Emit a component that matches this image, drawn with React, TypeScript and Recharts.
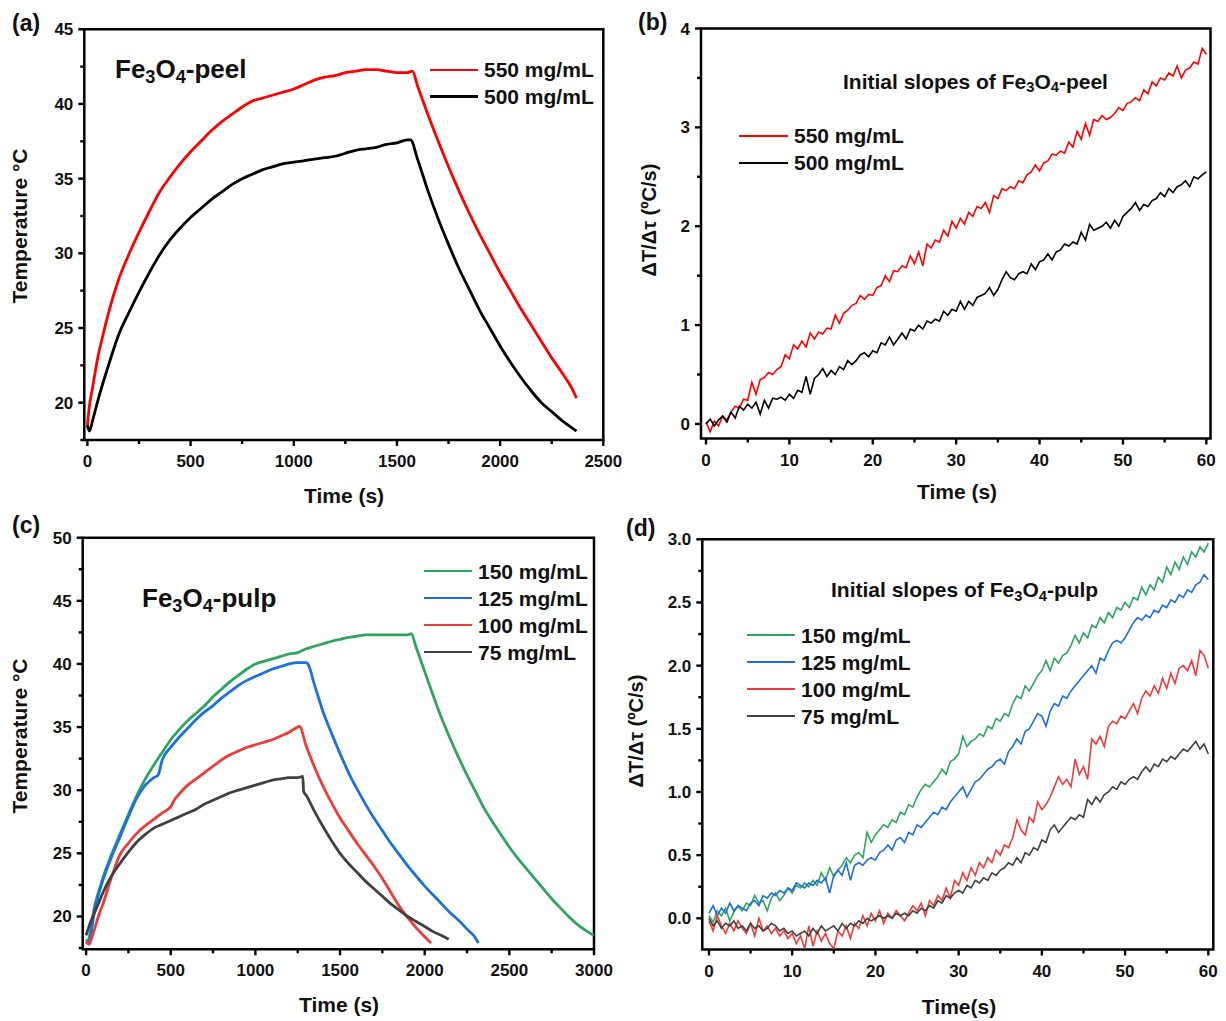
import React from 'react'
import { LineChart, Line, XAxis, YAxis, Legend, ReferenceArea } from 'recharts'

const FONT = '"Liberation Sans", Arial, Helvetica, sans-serif'
const INK = '#111'

// ---- (a) Fe3O4-peel, temperature vs time
const peel550Time = [0, 10, 25, 50, 75, 100, 150, 200, 250, 300, 350, 400, 450, 500, 550, 600, 650, 700, 750, 800, 850, 900, 950, 1000, 1050, 1100, 1150, 1200, 1250, 1300, 1350, 1400, 1450, 1500, 1550, 1575, 1600, 1650, 1700, 1750, 1800, 1850, 1900, 1950, 2000, 2050, 2100, 2150, 2200, 2250, 2300, 2350, 2370]
const peel550Temp = [18.5, 19.8, 21.0, 23.0, 24.5, 25.9, 28.2, 29.9, 31.4, 32.8, 34.1, 35.1, 36.0, 36.8, 37.5, 38.2, 38.8, 39.3, 39.8, 40.2, 40.4, 40.6, 40.8, 41.0, 41.3, 41.6, 41.8, 41.9, 42.1, 42.2, 42.3, 42.3, 42.2, 42.1, 42.1, 42.2, 41.2, 39.3, 37.5, 35.8, 34.2, 32.7, 31.3, 30.0, 28.7, 27.5, 26.3, 25.2, 24.1, 23.0, 22.0, 20.9, 20.3]
const peel500Time = [0, 10, 25, 50, 75, 100, 150, 200, 250, 300, 350, 400, 450, 500, 550, 600, 650, 700, 750, 800, 850, 900, 950, 1000, 1050, 1100, 1150, 1200, 1250, 1300, 1350, 1400, 1450, 1500, 1550, 1566, 1600, 1650, 1700, 1750, 1800, 1850, 1900, 1950, 2000, 2050, 2100, 2150, 2200, 2250, 2300, 2350, 2370]
const peel500Temp = [18.5, 18.1, 18.8, 20.1, 21.3, 22.4, 24.5, 26.0, 27.4, 28.7, 29.9, 30.9, 31.7, 32.4, 33.0, 33.6, 34.1, 34.6, 35.0, 35.3, 35.6, 35.8, 36.0, 36.1, 36.2, 36.3, 36.4, 36.5, 36.7, 36.9, 37.0, 37.1, 37.3, 37.4, 37.6, 37.6, 36.3, 34.2, 32.3, 30.6, 29.0, 27.6, 26.2, 25.0, 23.8, 22.7, 21.7, 20.8, 20.0, 19.4, 18.8, 18.3, 18.1]

// ---- (c) Fe3O4-pulp, temperature vs time
const pulp150Time = [0, 10, 25, 50, 75, 100, 150, 200, 250, 300, 350, 400, 450, 500, 550, 600, 650, 700, 750, 800, 850, 900, 950, 1000, 1050, 1100, 1150, 1200, 1250, 1300, 1350, 1400, 1450, 1500, 1550, 1600, 1650, 1700, 1750, 1800, 1850, 1900, 1920, 1950, 2000, 2050, 2100, 2150, 2200, 2250, 2300, 2350, 2400, 2450, 2500, 2550, 2600, 2650, 2700, 2750, 2800, 2850, 2900, 2950, 3000]
const pulp150Temp = [18.2, 18.0, 18.8, 20.8, 22.0, 23.1, 24.9, 26.5, 28.1, 29.6, 30.9, 32.0, 33.0, 34.0, 34.8, 35.5, 36.1, 36.7, 37.4, 38.0, 38.6, 39.1, 39.6, 40.0, 40.2, 40.4, 40.6, 40.8, 40.9, 41.2, 41.4, 41.6, 41.8, 41.95, 42.1, 42.2, 42.3, 42.3, 42.3, 42.3, 42.3, 42.3, 42.4, 41.3, 39.4, 37.5, 35.7, 34.1, 32.6, 31.2, 29.9, 28.6, 27.5, 26.5, 25.5, 24.6, 23.8, 23.0, 22.2, 21.4, 20.7, 20.0, 19.4, 18.9, 18.5]
const pulp125Time = [0, 10, 25, 50, 75, 100, 150, 200, 250, 300, 350, 400, 425, 450, 500, 550, 600, 650, 700, 750, 800, 850, 900, 950, 1000, 1050, 1100, 1150, 1200, 1250, 1300, 1310, 1350, 1400, 1450, 1500, 1550, 1600, 1650, 1700, 1750, 1800, 1850, 1900, 1950, 2000, 2050, 2100, 2150, 2200, 2250, 2300, 2317]
const pulp125Temp = [18.0, 17.9, 18.3, 20.5, 21.8, 22.9, 24.7, 26.3, 27.9, 29.4, 30.4, 31.0, 31.2, 32.4, 33.4, 34.2, 34.9, 35.6, 36.2, 36.7, 37.3, 37.8, 38.3, 38.7, 39.0, 39.3, 39.6, 39.8, 40.0, 40.1, 40.1, 40.0, 38.3, 36.2, 34.5, 32.9, 31.4, 30.1, 28.9, 27.8, 26.8, 25.8, 24.9, 24.0, 23.2, 22.4, 21.7, 21.0, 20.3, 19.7, 19.0, 18.3, 17.9]
const pulp100Time = [0, 17, 25, 50, 75, 100, 150, 200, 250, 300, 350, 400, 450, 500, 525, 550, 600, 650, 700, 750, 800, 850, 900, 950, 1000, 1050, 1100, 1150, 1200, 1250, 1260, 1300, 1350, 1400, 1450, 1500, 1550, 1600, 1650, 1700, 1750, 1800, 1850, 1900, 1950, 2000, 2037]
const pulp100Temp = [18.0, 17.8, 18.0, 19.0, 20.1, 21.0, 23.1, 24.9, 25.8, 26.6, 27.2, 27.7, 28.2, 28.7, 29.3, 29.7, 30.4, 30.9, 31.4, 31.9, 32.4, 32.8, 33.1, 33.4, 33.6, 33.8, 34.0, 34.3, 34.6, 35.0, 35.05, 33.5, 31.8, 30.3, 29.0, 27.8, 26.8, 25.8, 24.9, 24.0, 23.0, 21.9, 20.8, 19.9, 19.1, 18.4, 17.9]
const pulp75Time = [0, 25, 50, 75, 100, 150, 200, 250, 300, 350, 400, 450, 500, 550, 600, 650, 700, 750, 800, 850, 900, 950, 1000, 1050, 1100, 1150, 1200, 1250, 1280, 1285, 1300, 1350, 1400, 1450, 1500, 1550, 1600, 1650, 1700, 1750, 1800, 1850, 1900, 1950, 2000, 2050, 2100, 2142]
const pulp75Temp = [18.5, 19.5, 20.3, 21.1, 21.9, 23.2, 24.2, 25.1, 25.9, 26.5, 27.0, 27.3, 27.6, 27.9, 28.2, 28.5, 28.9, 29.2, 29.5, 29.8, 30.0, 30.2, 30.4, 30.6, 30.8, 30.9, 31.0, 31.0, 31.1, 29.9, 29.6, 28.3, 27.1, 26.0, 25.0, 24.2, 23.5, 22.8, 22.2, 21.6, 21.0, 20.5, 20.0, 19.6, 19.2, 18.8, 18.5, 18.2]

// ---- (b) and (d) initial slopes, sampled every 0.5 s
const slopeTime = [
  0, 0.5, 1, 1.5, 2, 2.5, 3, 3.5, 4, 4.5,
  5, 5.5, 6, 6.5, 7, 7.5, 8, 8.5, 9, 9.5,
  10, 10.5, 11, 11.5, 12, 12.5, 13, 13.5, 14, 14.5,
  15, 15.5, 16, 16.5, 17, 17.5, 18, 18.5, 19, 19.5,
  20, 20.5, 21, 21.5, 22, 22.5, 23, 23.5, 24, 24.5,
  25, 25.5, 26, 26.5, 27, 27.5, 28, 28.5, 29, 29.5,
  30, 30.5, 31, 31.5, 32, 32.5, 33, 33.5, 34, 34.5,
  35, 35.5, 36, 36.5, 37, 37.5, 38, 38.5, 39, 39.5,
  40, 40.5, 41, 41.5, 42, 42.5, 43, 43.5, 44, 44.5,
  45, 45.5, 46, 46.5, 47, 47.5, 48, 48.5, 49, 49.5,
  50, 50.5, 51, 51.5, 52, 52.5, 53, 53.5, 54, 54.5,
  55, 55.5, 56, 56.5, 57, 57.5, 58, 58.5, 59, 59.5,
  60,
]
const peelSlope550 = [
  0.02, -0.08, 0.03, -0.02, 0.08, 0.04, 0.12, 0.18, 0.16, 0.25,
  0.24, 0.42, 0.30, 0.45, 0.47, 0.52, 0.50, 0.55, 0.58, 0.70,
  0.66, 0.80, 0.76, 0.84, 0.78, 0.92, 0.86, 0.93, 0.91, 0.97,
  0.96, 1.10, 1.02, 1.12, 1.15, 1.20, 1.22, 1.30, 1.26, 1.31,
  1.30, 1.38, 1.40, 1.50, 1.44, 1.55, 1.54, 1.60, 1.58, 1.70,
  1.62, 1.74, 1.60, 1.82, 1.78, 1.86, 1.84, 1.96, 1.90, 2.05,
  1.98, 2.08, 2.02, 2.14, 2.10, 2.20, 2.18, 2.24, 2.14, 2.31,
  2.28, 2.38, 2.36, 2.40, 2.38, 2.46, 2.44, 2.52, 2.55, 2.62,
  2.56, 2.64, 2.66, 2.73, 2.72, 2.76, 2.74, 2.85, 2.80, 2.96,
  2.88, 3.04, 2.92, 3.08, 3.06, 3.12, 3.08, 3.10, 3.14, 3.20,
  3.17, 3.24, 3.26, 3.30, 3.27, 3.38, 3.34, 3.46, 3.42, 3.50,
  3.48, 3.55, 3.52, 3.62, 3.50, 3.58, 3.60, 3.66, 3.64, 3.80,
  3.74,
]
const peelSlope500 = [
  0.00, 0.05, -0.02, 0.04, 0.08, 0.02, 0.12, 0.06, 0.18, 0.14,
  0.20, 0.16, 0.22, 0.10, 0.24, 0.16, 0.26, 0.25, 0.27, 0.24,
  0.30, 0.26, 0.34, 0.32, 0.48, 0.30, 0.46, 0.50, 0.56, 0.48,
  0.54, 0.50, 0.58, 0.55, 0.64, 0.60, 0.64, 0.70, 0.72, 0.68,
  0.74, 0.72, 0.82, 0.80, 0.88, 0.80, 0.86, 0.92, 0.86, 0.96,
  0.94, 1.00, 0.96, 1.04, 1.02, 1.06, 1.04, 1.14, 1.10, 1.16,
  1.14, 1.24, 1.16, 1.24, 1.20, 1.28, 1.30, 1.32, 1.38, 1.30,
  1.36, 1.46, 1.54, 1.48, 1.46, 1.52, 1.54, 1.52, 1.62, 1.56,
  1.64, 1.66, 1.72, 1.66, 1.74, 1.76, 1.82, 1.80, 1.84, 1.82,
  1.94, 1.86, 2.02, 1.96, 1.98, 2.00, 2.04, 1.98, 2.06, 2.00,
  2.10, 2.14, 2.18, 2.24, 2.16, 2.22, 2.20, 2.26, 2.28, 2.34,
  2.30, 2.38, 2.34, 2.40, 2.42, 2.46, 2.40, 2.50, 2.48, 2.52,
  2.55,
]
const pulpSlope150 = [
  0.02, -0.03, 0.06, 0.02, 0.08, -0.02, 0.05, 0.10, 0.06, 0.12,
  0.10, 0.18, 0.12, 0.14, 0.06, 0.16, 0.20, 0.14, 0.18, 0.24,
  0.20, 0.26, 0.24, 0.28, 0.25, 0.30, 0.26, 0.36, 0.30, 0.40,
  0.33, 0.38, 0.42, 0.48, 0.44, 0.50, 0.52, 0.48, 0.68, 0.60,
  0.66, 0.70, 0.74, 0.72, 0.78, 0.76, 0.84, 0.82, 0.90, 0.88,
  0.96, 1.02, 1.06, 1.04, 1.08, 1.12, 1.18, 1.14, 1.24, 1.26,
  1.30, 1.44, 1.36, 1.40, 1.42, 1.46, 1.44, 1.52, 1.50, 1.58,
  1.56, 1.62, 1.60, 1.70, 1.76, 1.74, 1.84, 1.80, 1.86, 1.92,
  1.96, 2.04, 1.96, 2.06, 2.02, 2.08, 2.10, 2.16, 2.24, 2.18,
  2.26, 2.22, 2.32, 2.30, 2.38, 2.34, 2.42, 2.38, 2.46, 2.44,
  2.50, 2.46, 2.54, 2.52, 2.62, 2.56, 2.64, 2.60, 2.70, 2.66,
  2.78, 2.72, 2.82, 2.76, 2.86, 2.80, 2.90, 2.86, 2.94, 2.90,
  2.97,
]
const pulpSlope125 = [
  0.04, 0.10, 0.02, 0.08, 0.04, 0.12, 0.06, 0.10, 0.08, 0.06,
  0.12, 0.14, 0.10, 0.18, 0.16, 0.20, 0.18, 0.22, 0.20, 0.24,
  0.22, 0.28, 0.26, 0.24, 0.28, 0.26, 0.30, 0.28, 0.32, 0.20,
  0.34, 0.38, 0.34, 0.44, 0.30, 0.42, 0.44, 0.42, 0.46, 0.48,
  0.46, 0.52, 0.54, 0.58, 0.54, 0.62, 0.64, 0.60, 0.68, 0.66,
  0.74, 0.72, 0.76, 0.80, 0.84, 0.82, 0.88, 0.86, 0.92, 0.96,
  1.00, 1.04, 0.96, 1.02, 1.08, 1.10, 1.14, 1.18, 1.20, 1.24,
  1.26, 1.22, 1.32, 1.36, 1.42, 1.38, 1.48, 1.50, 1.56, 1.62,
  1.60, 1.52, 1.64, 1.70, 1.68, 1.76, 1.74, 1.80, 1.84, 1.88,
  1.92, 1.96, 2.00, 1.94, 2.06, 2.04, 2.12, 2.18, 2.20, 2.18,
  2.22, 2.28, 2.34, 2.38, 2.36, 2.40, 2.38, 2.44, 2.42, 2.48,
  2.46, 2.52, 2.50, 2.56, 2.54, 2.60, 2.58, 2.64, 2.66, 2.72,
  2.68,
]
const pulpSlope100 = [
  -0.02, -0.10, 0.02, -0.06, -0.12, -0.04, -0.10, -0.02, -0.08, -0.12,
  -0.04, -0.14, 0.00, -0.10, -0.06, -0.12, -0.08, -0.14, -0.10, -0.16,
  -0.12, -0.20, -0.14, -0.24, -0.06, -0.22, -0.10, -0.18, -0.12, -0.20,
  -0.24, -0.10, -0.14, -0.06, -0.16, -0.04, -0.08, 0.02, -0.06, 0.04,
  -0.02, 0.06, -0.04, 0.04, 0.00, 0.06, 0.02, -0.02, 0.04, 0.10,
  0.06, 0.12, 0.02, 0.14, 0.10, 0.18, 0.14, 0.24, 0.16, 0.30,
  0.26, 0.36, 0.30, 0.40, 0.34, 0.44, 0.40, 0.48, 0.44, 0.54,
  0.50, 0.58, 0.56, 0.64, 0.78, 0.70, 0.66, 0.80, 0.76, 0.92,
  0.86, 0.90, 0.96, 1.04, 1.12, 1.06, 1.10, 1.04, 1.26, 1.14,
  1.20, 1.10, 1.42, 1.38, 1.44, 1.36, 1.52, 1.56, 1.54, 1.60,
  1.58, 1.64, 1.70, 1.62, 1.74, 1.80, 1.76, 1.84, 1.78, 1.90,
  1.82, 1.94, 1.86, 1.98, 2.00, 1.96, 2.04, 1.92, 2.12, 2.08,
  1.98,
]
const pulpSlope75 = [
  0.00, -0.06, -0.02, -0.08, -0.04, -0.06, -0.02, -0.08, -0.06, -0.10,
  -0.04, -0.08, -0.06, -0.10, -0.08, -0.04, -0.06, -0.10, -0.08, -0.12,
  -0.10, -0.14, -0.12, -0.10, -0.14, -0.08, -0.12, -0.06, -0.10, -0.08,
  -0.06, -0.10, -0.04, -0.08, -0.04, -0.06, -0.02, -0.04, 0.00, -0.02,
  0.00, 0.02, 0.00, 0.02, 0.00, 0.04, 0.02, 0.04, 0.02, 0.06,
  0.04, 0.08, 0.06, 0.10, 0.08, 0.14, 0.12, 0.18, 0.16, 0.20,
  0.22, 0.20, 0.26, 0.24, 0.30, 0.28, 0.32, 0.30, 0.36, 0.34,
  0.38, 0.40, 0.44, 0.42, 0.48, 0.44, 0.52, 0.50, 0.56, 0.54,
  0.62, 0.60, 0.70, 0.74, 0.68, 0.72, 0.76, 0.80, 0.78, 0.82,
  0.80, 0.94, 0.90, 0.96, 0.92, 0.98, 1.00, 1.04, 1.02, 1.08,
  1.06, 1.10, 1.12, 1.10, 1.16, 1.20, 1.16, 1.22, 1.20, 1.26,
  1.24, 1.28, 1.26, 1.30, 1.34, 1.32, 1.36, 1.40, 1.34, 1.38,
  1.30,
]

// ---- axis ticks (majors carry labels, the rest are minor marks)
const peelXTicks = [0, 250, 500, 750, 1000, 1250, 1500, 1750, 2000, 2250, 2500]
const peelXMajor = [0, 500, 1000, 1500, 2000, 2500]
const peelYTicks = [17.5, 20, 22.5, 25, 27.5, 30, 32.5, 35, 37.5, 40, 42.5, 45]
const peelYMajor = [20, 25, 30, 35, 40, 45]
const pulpXTicks = [0, 250, 500, 750, 1000, 1250, 1500, 1750, 2000, 2250, 2500, 2750, 3000]
const pulpXMajor = [0, 500, 1000, 1500, 2000, 2500, 3000]
const pulpYTicks = [17.5, 20, 22.5, 25, 27.5, 30, 32.5, 35, 37.5, 40, 42.5, 45, 47.5, 50]
const pulpYMajor = [20, 25, 30, 35, 40, 45, 50]
const slopeXTicks = [0, 5, 10, 15, 20, 25, 30, 35, 40, 45, 50, 55, 60]
const slopeXMajor = [0, 10, 20, 30, 40, 50, 60]
const peelSlopeYTicks = [0, 0.5, 1, 1.5, 2, 2.5, 3, 3.5, 4]
const peelSlopeYMajor = [0, 1, 2, 3, 4]
const pulpSlopeYTicks = [0, 0.25, 0.5, 0.75, 1, 1.25, 1.5, 1.75, 2, 2.25, 2.5, 2.75, 3]
const pulpSlopeYMajor = [0, 0.5, 1, 1.5, 2, 2.5, 3]

type Pt = { t: number; v: number }
const zip = (ts: number[], vs: number[]): Pt[] => ts.map((t, i) => ({ t, v: vs[i] }))
const near = (list: number[], v: number) => list.some((m) => Math.abs(m - v) < 1e-6)

function BottomTick(props: any) {
  const { x, y, payload, majors } = props
  const major = near(majors, payload.value)
  return (
    <g>
      <line x1={x} x2={x} y1={y} y2={y + (major ? 6 : 4)} stroke="#000" strokeWidth={2.4} />
      {major && (
        <text x={x} y={y + 27} textAnchor="middle" fontFamily={FONT} fontWeight={700} fontSize={17} fill={INK}>
          {String(payload.value)}
        </text>
      )}
    </g>
  )
}

function LeftTick(props: any) {
  const { x, y, payload, majors, digits } = props
  const major = near(majors, payload.value)
  return (
    <g>
      <line x1={x - (major ? 6 : 4)} x2={x} y1={y} y2={y} stroke="#000" strokeWidth={2.4} />
      {major && (
        <text x={x - 11} y={y + 6} textAnchor="end" fontFamily={FONT} fontWeight={700} fontSize={17} fill={INK}>
          {payload.value.toFixed(digits)}
        </text>
      )}
    </g>
  )
}

// legend rows follow the series order, not the alphabetical default
function legendContent(order: string[], lineLen: number, gap: number, rowH: number, thick: number) {
  return ({ payload }: any) => {
    const items = [...(payload || [])].sort((a: any, b: any) => order.indexOf(a.value) - order.indexOf(b.value))
    return (
      <div>
        {items.map((p: any) => (
          <div key={p.value} style={{ display: 'flex', alignItems: 'center', height: rowH }}>
            <span style={{ display: 'inline-block', width: lineLen, height: thick, background: p.color, marginRight: gap }} />
            <span style={{ fontFamily: FONT, fontWeight: 700, fontSize: 21, lineHeight: 1, color: INK, whiteSpace: 'nowrap' }}>
              {p.value}
            </span>
          </div>
        ))}
      </div>
    )
  }
}

type SeriesDef = { name: string; color: string; data: Pt[] }

function Panel(props: {
  left: number
  top: number
  width: number
  height: number
  margin: { top: number; right: number; bottom: number; left: number }
  xDomain: [number, number]
  yDomain: [number, number]
  xTicks: number[]
  xMajor: number[]
  yTicks: number[]
  yMajor: number[]
  yDigits: number
  series: SeriesDef[]
  strokeWidth: number
  curve: 'linear' | 'monotone'
  legend: { left: number; top: number; lineLen: number; gap: number; rowH: number; thick: number }
}) {
  const p = props
  const order = p.series.map((s) => s.name)
  return (
    <div style={{ position: 'absolute', left: p.left, top: p.top }}>
      <LineChart width={p.width} height={p.height} margin={p.margin}>
        <XAxis
          type="number"
          dataKey="t"
          domain={p.xDomain}
          allowDataOverflow
          ticks={p.xTicks}
          interval={0}
          height={30}
          tickSize={0}
          tickMargin={0}
          tickLine={false}
          axisLine={false}
          tick={(t: any) => <BottomTick {...t} majors={p.xMajor} />}
        />
        <YAxis
          type="number"
          dataKey="v"
          domain={p.yDomain}
          allowDataOverflow
          ticks={p.yTicks}
          interval={0}
          width={60}
          tickSize={0}
          tickMargin={0}
          tickLine={false}
          axisLine={false}
          tick={(t: any) => <LeftTick {...t} majors={p.yMajor} digits={p.yDigits} />}
        />
        <ReferenceArea
          x1={p.xDomain[0]}
          x2={p.xDomain[1]}
          y1={p.yDomain[0]}
          y2={p.yDomain[1]}
          fill="none"
          fillOpacity={0}
          stroke="#000"
          strokeWidth={2.5}
          ifOverflow="visible"
        />
        {p.series.map((s) => (
          <Line
            key={s.name}
            data={s.data}
            dataKey="v"
            name={s.name}
            stroke={s.color}
            strokeWidth={p.strokeWidth}
            type={p.curve}
            dot={false}
            activeDot={false}
            isAnimationActive={false}
          />
        ))}
        <Legend
          layout="vertical"
          align="center"
          verticalAlign="middle"
          wrapperStyle={{ left: p.legend.left, top: p.legend.top, width: 220 }}
          content={legendContent(order, p.legend.lineLen, p.legend.gap, p.legend.rowH, p.legend.thick)}
        />
      </LineChart>
    </div>
  )
}

const Sub = ({ c }: { c: string }) => (
  <span style={{ fontSize: '0.7em', position: 'relative', top: '0.25em', lineHeight: 0 }}>{c}</span>
)

function Txt(props: { x: number; y: number; size: number; center?: boolean; rotate?: boolean; children: React.ReactNode }) {
  const { x, y, size, center, rotate, children } = props
  const transform = rotate
    ? 'translate(-50%, -50%) rotate(-90deg)'
    : center
      ? 'translate(-50%, -50%)'
      : 'translate(0, -50%)'
  return (
    <div
      style={{
        position: 'absolute',
        left: x,
        top: y,
        transform,
        fontSize: size,
        fontWeight: 700,
        lineHeight: 1,
        whiteSpace: 'nowrap',
        fontFamily: FONT,
        color: INK,
      }}
    >
      {children}
    </div>
  )
}

const RED = '#FF0000'
const BLACK = '#000000'
const GREEN = '#2EA55F'
const BLUE = '#1C6FE0'
const RED2 = '#F03A3A'
const GRAY = '#404040'

export default function App() {
  return (
    <div
      style={{
        position: 'absolute',
        left: 0,
        top: 0,
        width: 1226,
        height: 1021,
        background: '#fff',
        overflow: 'hidden',
        fontFamily: FONT,
      }}
    >
      {/* (a) */}
      <Panel
        left={0}
        top={0}
        width={650}
        height={510}
        margin={{ top: 29.3, right: 46.7, bottom: 40, left: 24.3 }}
        xDomain={[-15, 2500]}
        yDomain={[17.5, 45]}
        xTicks={peelXTicks}
        xMajor={peelXMajor}
        yTicks={peelYTicks}
        yMajor={peelYMajor}
        yDigits={0}
        strokeWidth={2.8}
        curve="monotone"
        series={[
          { name: '550 mg/mL', color: RED, data: zip(peel550Time, peel550Temp) },
          { name: '500 mg/mL', color: BLACK, data: zip(peel500Time, peel500Temp) },
        ]}
        legend={{ left: 430, top: 56.6, lineLen: 48, gap: 6, rowH: 26.7, thick: 2.5 }}
      />
      {/* (b) */}
      <Panel
        left={620}
        top={0}
        width={606}
        height={510}
        margin={{ top: 28.5, right: 15.5, bottom: 41.5, left: 21 }}
        xDomain={[-0.6, 60.5]}
        yDomain={[-0.147, 4]}
        xTicks={slopeXTicks}
        xMajor={slopeXMajor}
        yTicks={peelSlopeYTicks}
        yMajor={peelSlopeYMajor}
        yDigits={0}
        strokeWidth={1.6}
        curve="linear"
        series={[
          { name: '550 mg/mL', color: RED, data: zip(slopeTime, peelSlope550) },
          { name: '500 mg/mL', color: BLACK, data: zip(slopeTime, peelSlope500) },
        ]}
        legend={{ left: 119, top: 122.6, lineLen: 49, gap: 6, rowH: 26.7, thick: 2.2 }}
      />
      {/* (c) */}
      <Panel
        left={0}
        top={510}
        width={620}
        height={511}
        margin={{ top: 27.7, right: 26, bottom: 41.7, left: 22.7 }}
        xDomain={[-20, 3000]}
        yDomain={[17.4, 50]}
        xTicks={pulpXTicks}
        xMajor={pulpXMajor}
        yTicks={pulpYTicks}
        yMajor={pulpYMajor}
        yDigits={0}
        strokeWidth={2.8}
        curve="monotone"
        series={[
          { name: '150 mg/mL', color: GREEN, data: zip(pulp150Time, pulp150Temp) },
          { name: '125 mg/mL', color: BLUE, data: zip(pulp125Time, pulp125Temp) },
          { name: '100 mg/mL', color: RED2, data: zip(pulp100Time, pulp100Temp) },
          { name: '75 mg/mL', color: GRAY, data: zip(pulp75Time, pulp75Temp) },
        ]}
        legend={{ left: 424, top: 47.5, lineLen: 47.5, gap: 6.5, rowH: 27, thick: 2.5 }}
      />
      {/* (d) */}
      <Panel
        left={620}
        top={510}
        width={606}
        height={511}
        margin={{ top: 29.3, right: 12.7, bottom: 41.5, left: 22.3 }}
        xDomain={[-0.8, 60.6]}
        yDomain={[-0.247, 3]}
        xTicks={slopeXTicks}
        xMajor={slopeXMajor}
        yTicks={pulpSlopeYTicks}
        yMajor={pulpSlopeYMajor}
        yDigits={1}
        strokeWidth={1.6}
        curve="linear"
        series={[
          { name: '150 mg/mL', color: GREEN, data: zip(slopeTime, pulpSlope150) },
          { name: '125 mg/mL', color: BLUE, data: zip(slopeTime, pulpSlope125) },
          { name: '100 mg/mL', color: RED2, data: zip(slopeTime, pulpSlope100) },
          { name: '75 mg/mL', color: GRAY, data: zip(slopeTime, pulpSlope75) },
        ]}
        legend={{ left: 127, top: 111.5, lineLen: 47.6, gap: 6.4, rowH: 27, thick: 2.5 }}
      />

      {/* panel letters */}
      <Txt x={12} y={23} size={23}>(a)</Txt>
      <Txt x={638} y={22} size={23}>(b)</Txt>
      <Txt x={12} y={525} size={23}>(c)</Txt>
      <Txt x={626} y={528} size={23}>(d)</Txt>

      {/* in-plot annotations */}
      <Txt x={115} y={69} size={26}>
        Fe<Sub c="3" />O<Sub c="4" />-peel
      </Txt>
      <Txt x={843} y={80.5} size={21}>
        Initial slopes of Fe<Sub c="3" />O<Sub c="4" />-peel
      </Txt>
      <Txt x={142} y={598} size={26}>
        Fe<Sub c="3" />O<Sub c="4" />-pulp
      </Txt>
      <Txt x={831} y={589} size={21}>
        Initial slopes of Fe<Sub c="3" />O<Sub c="4" />-pulp
      </Txt>

      {/* axis titles */}
      <Txt x={344} y={494.5} size={21} center>Time (s)</Txt>
      <Txt x={957} y={491} size={21} center>Time (s)</Txt>
      <Txt x={339} y={1004} size={21} center>Time (s)</Txt>
      <Txt x={959} y={1006} size={21} center>Time(s)</Txt>
      <Txt x={19} y={226} size={21} rotate>Temperature °C</Txt>
      <Txt x={649} y={220} size={20} rotate>ΔT/Δτ (ºC/s)</Txt>
      <Txt x={19} y={736} size={21} rotate>Temperature °C</Txt>
      <Txt x={636} y={731} size={20} rotate>ΔT/Δτ (ºC/s)</Txt>
    </div>
  )
}
